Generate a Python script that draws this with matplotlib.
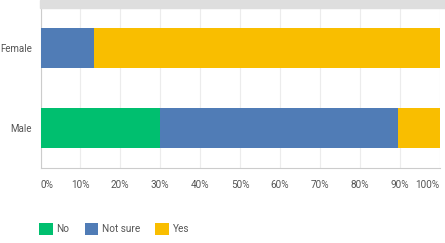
import matplotlib
matplotlib.use("Agg")
import matplotlib.pyplot as plt
from matplotlib.patches import Rectangle

categories = ["Male", "Female"]
series_names = ["No", "Not sure", "Yes"]
no_vals = [30.0, 0.0]
notsure_vals = [59.7, 13.3]
yes_vals = [10.3, 86.7]
tick_vals = [0, 10, 20, 30, 40, 50, 60, 70, 80, 90, 100]
tick_labels = [f"{v}%" for v in tick_vals]
colors = ["#00bf6f", "#507cb6", "#f9be00"]

plt.rcParams['font.family'] = ['Roboto', 'DejaVu Sans']

fig = plt.figure(figsize=(4.45, 2.43), dpi=100)
ax = fig.add_axes([40.5/445, 1-168/243, 399/445, 160/243])

# top grey band
fig.patches.append(Rectangle((40/445, 1-8/243), 1-40/445, 8/243,
                             transform=fig.transFigure, color="#dedede", zorder=0))

ypos = [0, 1]
left = [0, 0]
for name, vals, c in zip(series_names, [no_vals, notsure_vals, yes_vals], colors):
    ax.barh(ypos, vals, left=left, height=0.5, color=c, label=name, zorder=3,
            edgecolor="none")
    left = [l + v for l, v in zip(left, vals)]

ax.set_xlim(0, 100)
ax.set_ylim(-0.5, 1.5)
ax.set_yticks(ypos)
ax.set_yticklabels(categories, fontsize=7, color="#555555")
ax.set_xticks(tick_vals)
ax.set_xticklabels(tick_labels, fontsize=7.2, color="#555555")
labels = ax.get_xticklabels()
labels[0].set_ha("left")
labels[-1].set_ha("right")
ax.tick_params(axis="both", length=0)
ax.tick_params(axis="x", pad=8.5)
ax.tick_params(axis="y", pad=6)
ax.grid(axis="x", color="#ececec", linewidth=0.8, zorder=0)
for s in ["top", "right"]:
    ax.spines[s].set_visible(False)
for s in ["left", "bottom"]:
    ax.spines[s].set_color("#cccccc")
    ax.spines[s].set_linewidth(0.8)

handles, labs = ax.get_legend_handles_labels()
leg = fig.legend(handles, labs, loc="center left", bbox_to_anchor=(30/445, 1-229/243),
                 ncol=3, frameon=False, fontsize=7.2, handlelength=1.35, handleheight=1.6,
                 handletextpad=0.4, columnspacing=1.5, labelcolor="#555555")

fig.savefig("out.png", dpi=100)
